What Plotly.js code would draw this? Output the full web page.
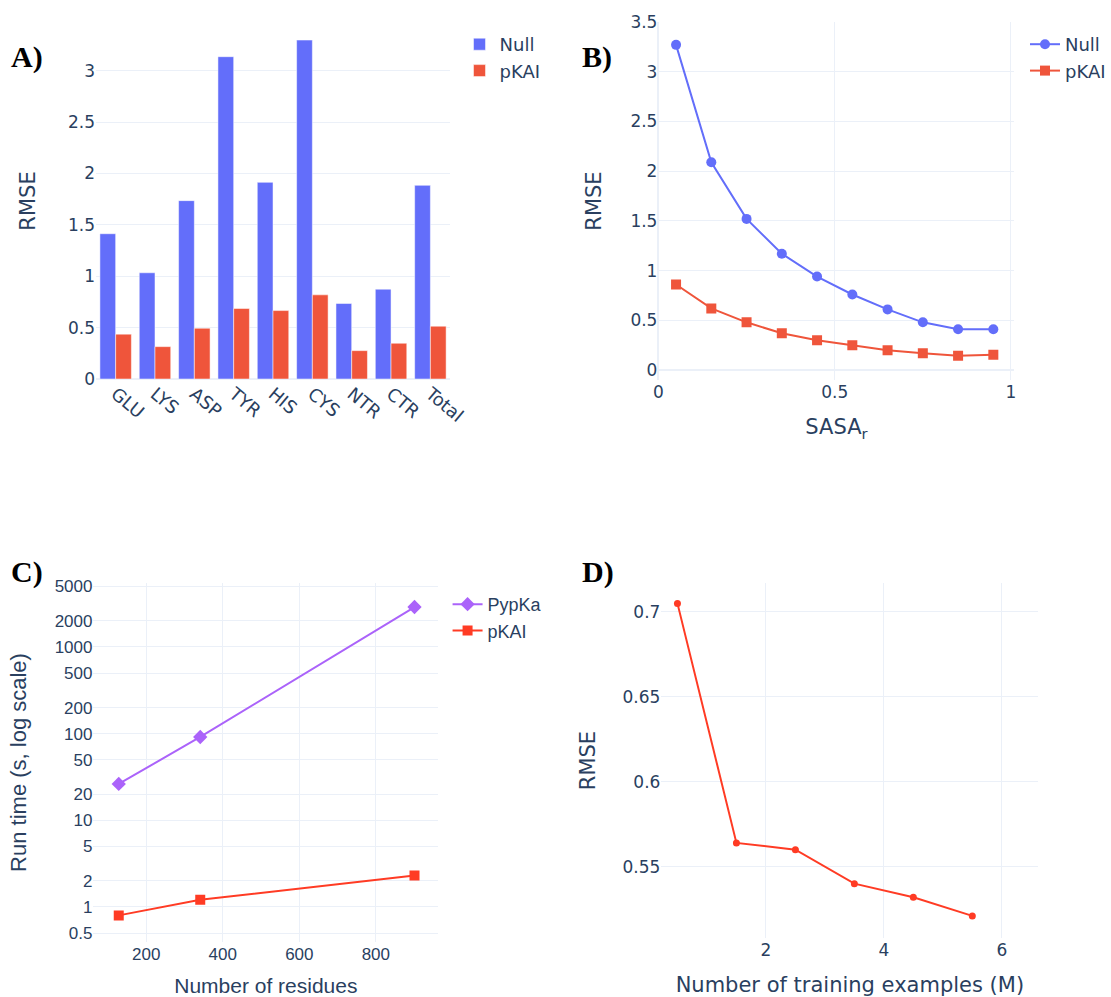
<!DOCTYPE html>
<html>
<head>
<meta charset="utf-8">
<script src="https://cdn.plot.ly/plotly-3.0.1.min.js"></script>
<style>html,body{margin:0;padding:0;background:#fff;}#chart{width:1111px;height:997px;}</style>
</head>
<body>
<div id="chart"></div>
<script>
// Panel A
const residues = ["GLU","LYS","ASP","TYR","HIS","CYS","NTR","CTR","Total"];
const nullRmse = [1.414,1.034,1.736,3.137,1.914,3.299,0.735,0.874,1.885];
const pkaiRmse = [0.436,0.315,0.494,0.686,0.666,0.819,0.276,0.348,0.514];
// Panel B
const sasa = [0.05,0.15,0.25,0.35,0.45,0.55,0.65,0.75,0.85,0.95];
const nullSasa = [3.27,2.09,1.52,1.17,0.94,0.76,0.61,0.48,0.41,0.41];
const pkaiSasa = [0.86,0.62,0.48,0.37,0.30,0.25,0.20,0.17,0.145,0.155];
// Panel C
const nResidues = [128,341,901];
const pypkaTime = [26.3,91.5,2890];
const pkaiTime = [0.80,1.21,2.31];
const logTickVals = [0.5,1,2,5,10,20,50,100,200,500,1000,2000,5000];
const logTickText = ["0.5","1","2","5","10","20","50","100","200","500","1000","2000","5000"];
// Panel D
const trainSize = [0.5,1.5,2.5,3.5,4.5,5.5];
const trainRmse = [0.705,0.564,0.560,0.540,0.532,0.521];

const W = 1111, H = 997;
const px = v => v / W;
const py = v => 1 - v / H;

const BLUE = "#636efa", RED = "#EF553B", PURPLE = "#ab63fa", RED2 = "#ff3b24";
const grid = "#EBF0F8";
const fontC = "#2a3f5f";
const dv = "DejaVu Sans";
const ar = "Liberation Sans, Arial";

const data = [
  {type:"bar", x:residues, y:nullRmse, name:"Null", marker:{color:BLUE, line:{color:"white", width:0.5}}, xaxis:"x", yaxis:"y", legend:"legend"},
  {type:"bar", x:residues, y:pkaiRmse, name:"pKAI", marker:{color:RED, line:{color:"white", width:0.5}}, xaxis:"x", yaxis:"y", legend:"legend"},
  {type:"scatter", mode:"lines+markers", x:sasa, y:nullSasa, name:"Null", line:{color:BLUE, width:2}, marker:{symbol:"circle", size:10, color:BLUE}, xaxis:"x2", yaxis:"y2", legend:"legend2"},
  {type:"scatter", mode:"lines+markers", x:sasa, y:pkaiSasa, name:"pKAI", line:{color:RED, width:2}, marker:{symbol:"square", size:10, color:RED}, xaxis:"x2", yaxis:"y2", legend:"legend2"},
  {type:"scatter", mode:"lines+markers", x:nResidues, y:pypkaTime, name:"PypKa", line:{color:PURPLE, width:2}, marker:{symbol:"diamond", size:11, color:PURPLE}, xaxis:"x3", yaxis:"y3", legend:"legend3"},
  {type:"scatter", mode:"lines+markers", x:nResidues, y:pkaiTime, name:"pKAI", line:{color:RED2, width:2}, marker:{symbol:"square", size:10, color:RED2}, xaxis:"x3", yaxis:"y3", legend:"legend3"},
  {type:"scatter", mode:"lines+markers", x:trainSize, y:trainRmse, name:"pKAI", line:{color:RED2, width:2}, marker:{symbol:"circle", size:7, color:RED2}, xaxis:"x4", yaxis:"y4", showlegend:false}
];

function ax(extra){
  return Object.assign({gridcolor:grid, linecolor:grid, zerolinecolor:grid, zerolinewidth:2, ticks:"", showline:false,
    tickfont:{family:dv, size:17, color:fontC}}, extra);
}

const layout = {
  width:W, height:H, margin:{l:0,r:0,t:0,b:0},
  paper_bgcolor:"white", plot_bgcolor:"white",
  font:{family:dv, size:17, color:fontC},
  showlegend:true,
  barmode:"group", bargap:0.2,
  xaxis: ax({domain:[px(96.5), px(452.5)], anchor:"y", tickangle:40, showgrid:false, tickfont:{family:dv, size:18, color:fontC}}),
  yaxis: ax({domain:[py(379), py(23)], anchor:"x", range:[0,3.465], dtick:0.5,
    title:{text:"RMSE", font:{family:dv, size:21, color:fontC}, standoff:26}}),
  xaxis2: ax({domain:[px(662), px(1020)], anchor:"y2", range:[0,1.01], dtick:0.5,
    title:{text:"SASA<sub>r</sub>", font:{family:dv, size:21, color:fontC}, standoff:18}}),
  yaxis2: ax({domain:[py(380), py(22)], anchor:"x2", range:[-0.1,3.5], dtick:0.5,
    title:{text:"RMSE", font:{family:dv, size:21, color:fontC}, standoff:23}}),
  xaxis3: ax({domain:[px(94), px(440.6)], anchor:"y3", range:[62,963], dtick:200,
    tickfont:{family:ar, size:17, color:fontC},
    title:{text:"Number of residues", font:{family:ar, size:21, color:fontC}, standoff:17}}),
  yaxis3: ax({domain:[py(942), py(583)], anchor:"x3", type:"log", range:[-0.404,3.738],
    tickvals:logTickVals, ticktext:logTickText, tickfont:{family:ar, size:17, color:fontC},
    title:{text:"Run time (s, log scale)", font:{family:ar, size:22, color:fontC}, standoff:21}}),
  xaxis4: ax({domain:[px(665), px(1044)], anchor:"y4", range:[0.228,6.62], dtick:2,
    title:{text:"Number of training examples (M)", font:{family:dv, size:21, color:fontC}, standoff:20}}),
  yaxis4: ax({domain:[py(938), py(583)], anchor:"x4", range:[0.508,0.717], dtick:0.05,
    title:{text:"RMSE", font:{family:dv, size:21, color:fontC}, standoff:21}}),
  legend: {x:px(462), y:py(26), xanchor:"left", yanchor:"top", font:{family:dv, size:18, color:fontC}, bgcolor:"rgba(0,0,0,0)"},
  legend2: {x:px(1031), y:py(26), xanchor:"left", yanchor:"top", font:{family:dv, size:18, color:fontC}, bgcolor:"rgba(0,0,0,0)"},
  legend3: {x:px(450), y:py(586), xanchor:"left", yanchor:"top", font:{family:ar, size:18, color:fontC}, bgcolor:"rgba(0,0,0,0)"},
  annotations: [
    {text:"<b>A)</b>", x:px(9), y:py(57), xref:"paper", yref:"paper", xanchor:"left", yanchor:"middle", showarrow:false, font:{family:"Liberation Serif", size:30, color:"#000"}},
    {text:"<b>B)</b>", x:px(583), y:py(57), xref:"paper", yref:"paper", xanchor:"left", yanchor:"middle", showarrow:false, font:{family:"Liberation Serif", size:30, color:"#000"}},
    {text:"<b>C)</b>", x:px(9), y:py(572), xref:"paper", yref:"paper", xanchor:"left", yanchor:"middle", showarrow:false, font:{family:"Liberation Serif", size:30, color:"#000"}},
    {text:"<b>D)</b>", x:px(583), y:py(572), xref:"paper", yref:"paper", xanchor:"left", yanchor:"middle", showarrow:false, font:{family:"Liberation Serif", size:30, color:"#000"}}
  ]
};

Plotly.newPlot("chart", data, layout, {displayModeBar:false, staticPlot:true});
</script>
</body>
</html>
